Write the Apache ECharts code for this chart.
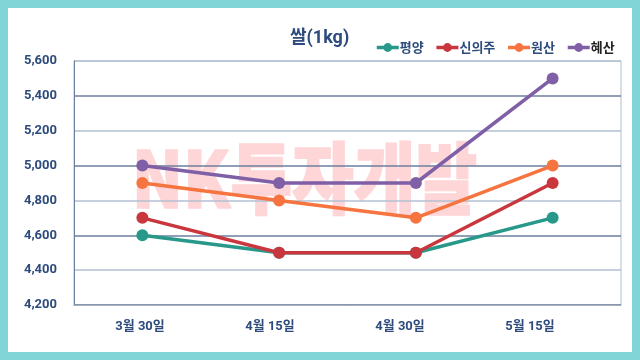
<!DOCTYPE html>
<html><head><meta charset="utf-8">
<script src="https://cdn.jsdelivr.net/npm/echarts@6/dist/echarts.min.js"></script>
<style>
html,body{margin:0;padding:0;background:#82d5d7;}
#wrap{position:relative;width:640px;height:360px;background:#82d5d7;}
#panel{position:absolute;left:8px;top:8px;width:624px;height:344px;background:#ffffff;}
#chart{position:absolute;left:0;top:0;width:640px;height:360px;}
</style></head>
<body>
<div id="wrap"><div id="panel"></div><div id="chart"></div></div>
<script>
const categories = ['3월 30일', '4월 15일', '4월 30일', '5월 15일'];
const pyongyang = [4600, 4500, 4500, 4700];
const sinuiju = [4700, 4500, 4500, 4900];
const wonsan = [4900, 4800, 4700, 5000];
const hyesan = [5000, 4900, 4900, 5500];
const seriesNames = ['평양', '신의주', '원산', '혜산'];
const colors = ['#27988a', '#c9363e', '#f5743f', '#7f5fa6'];
const seriesData = [pyongyang, sinuiju, wonsan, hyesan];

const navy = '#2d4b7d';
const chart = echarts.init(document.getElementById('chart'), null, {renderer: 'canvas'});
const option = {
  backgroundColor: 'transparent',
  animation: false,
  title: {
    text: '쌀(1kg)', left: 285, top: 25,
    textStyle: {color: navy, fontSize: 18, fontWeight: 'bold', fontFamily: 'Roboto, "Noto Sans CJK KR", sans-serif'}
  },
  legend: {
    left: 370, top: 36, itemWidth: 22, itemHeight: 11, itemGap: 11,
    lineStyle: {width: 3.5},
    data: seriesNames.map((n, i) => ({name: n, textStyle: {color: i === 3 ? '#222222' : navy}})),
    textStyle: {fontSize: 13, fontWeight: 'bold', fontFamily: '"Noto Sans CJK KR", sans-serif', padding: [0, 0, 0, -4]}
  },
  graphic: [{
    type: 'text', left: 131, top: 139, z: -1, silent: true,
    scaleX: 0.86,
    style: {text: 'NK투자개발', fill: '#ffd6d8', stroke: '#ffd6d8', lineWidth: 1.5, font: '900 78px "Noto Sans CJK KR", sans-serif'}
  }],
  grid: [
    {left: 74, top: 61, right: 19, bottom: 55, show: true, borderColor: '#b3bfd3', borderWidth: 1},
    {left: 75, top: 61, right: 45, bottom: 55, show: false}
  ],
  xAxis: [
    {type: 'category', gridIndex: 0, data: categories, boundaryGap: true,
     axisLine: {show: true, lineStyle: {color: '#a9aeb8'}}, axisTick: {show: false},
     axisLabel: {show: false}, splitLine: {show: false}},
    {type: 'category', gridIndex: 1, data: categories, boundaryGap: true,
     axisLine: {show: false}, axisTick: {show: false}, splitLine: {show: false},
     axisLabel: {show: true, margin: 15, color: navy, fontSize: 13, fontWeight: 'bold', fontFamily: 'Roboto, "Noto Sans CJK KR", sans-serif'}}
  ],
  yAxis: [
    {type: 'value', gridIndex: 0, min: 4200, max: 5600, interval: 200,
     axisLine: {show: true, lineStyle: {color: '#6b7f9e'}}, axisTick: {show: false},
     splitLine: {show: true, lineStyle: {color: ['#6b7f9e', '#b3bfd3'], width: 1.5}},
     axisLabel: {margin: 17, color: navy, fontSize: 13, fontWeight: 'bold', fontFamily: 'Roboto, sans-serif',
       formatter: v => v.toLocaleString('en-US')}},
    {type: 'value', gridIndex: 1, min: 4200, max: 5600, show: false}
  ],
  series: seriesNames.map((n, i) => ({
    name: n, type: 'line', xAxisIndex: 0, yAxisIndex: 0, data: seriesData[i],
    symbol: 'circle', symbolSize: 12, z: 3 + i,
    lineStyle: {color: colors[i], width: 3.5},
    itemStyle: {color: colors[i]}
  }))
};
chart.setOption(option);
</script>
</body></html>
